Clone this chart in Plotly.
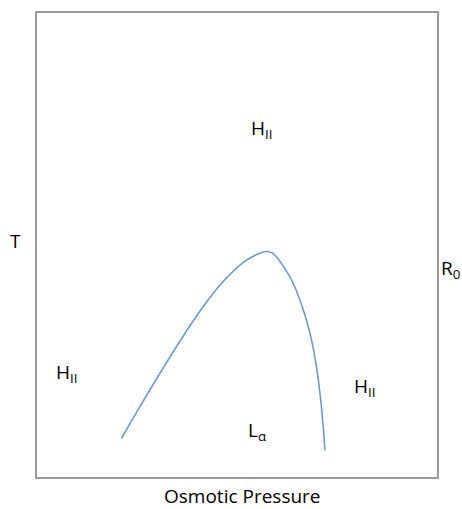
import plotly.graph_objects as go

# Phase boundary between the lamellar (L_alpha) and inverted hexagonal (H_II) phases
pressure = [21.1, 26.1, 31.2, 36.2, 41.2, 46.2, 51.2, 53.7, 56.2, 57.4, 58.8,
            60.3, 63.3, 65.8, 68.3, 70.0, 71.2, 72.0]
temperature = [8.3, 15.7, 23.0, 29.9, 36.3, 41.8, 46.0, 47.4, 48.4, 48.6, 48.3,
               47.0, 43.0, 38.0, 30.8, 23.0, 14.3, 5.7]

# Phase labels placed inside the diagram
phase_labels = ["H<sub>II</sub>", "H<sub>II</sub>", "H<sub>II</sub>", "L<sub>α</sub>"]
phase_x = [56.0, 7.4, 81.9, 55.0]
phase_y = [75.0, 22.5, 19.3, 9.9]

FONT = "Open Sans, Liberation Sans, sans-serif"
TEXT_COLOR = "#000000"

fig = go.Figure()
fig.add_trace(go.Scatter(
    x=pressure, y=temperature, mode="lines",
    line=dict(color="#6a9bd1", width=1.6, shape="spline", smoothing=1.0),
    hoverinfo="skip", showlegend=False,
))

annotations = []
for txt, xx, yy in zip(phase_labels, phase_x, phase_y):
    annotations.append(dict(x=xx, y=yy, xref="x", yref="y", text=txt, showarrow=False,
                            xanchor="center", yanchor="middle",
                            font=dict(family=FONT, size=19, color=TEXT_COLOR)))

annotations += [
    dict(x=-0.055, y=0.509, xref="paper", yref="paper", text="T", showarrow=False,
         xanchor="center", yanchor="middle",
         font=dict(family=FONT, size=19, color=TEXT_COLOR)),
    dict(x=1.033, y=0.449, xref="paper", yref="paper", text="R<sub>0</sub>", showarrow=False,
         xanchor="center", yanchor="middle",
         font=dict(family=FONT, size=19, color=TEXT_COLOR)),
    dict(x=0.513, y=-0.041, xref="paper", yref="paper", text="Osmotic Pressure", showarrow=False,
         xanchor="center", yanchor="middle", borderpad=0,
         font=dict(family=FONT, size=19, color=TEXT_COLOR)),
]

axis_common = dict(showgrid=False, zeroline=False, showticklabels=False, ticks="",
                   showline=True, mirror=True, linecolor="#9a9a9a", linewidth=2)

fig.update_layout(
    width=462, height=509,
    margin=dict(l=37, r=25, t=11, b=32),
    paper_bgcolor="white", plot_bgcolor="white",
    xaxis=dict(range=[0, 100], **axis_common),
    yaxis=dict(range=[0, 100], **axis_common),
    annotations=annotations,
)

fig.write_html("out.html")
